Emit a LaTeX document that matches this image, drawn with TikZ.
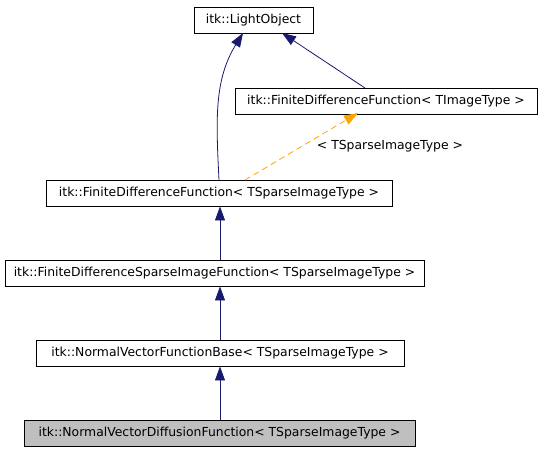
\documentclass[tikz,border=0pt]{standalone}
\usepackage{fontspec}
\setmainfont{DejaVu Sans}
\usetikzlibrary{arrows.meta}
\definecolor{navyline}{HTML}{191970}
\definecolor{dorange}{HTML}{FFA500}
\definecolor{graybox}{HTML}{BFBFBF}
\begin{document}
\begin{tikzpicture}[x=1pt,y=-1pt,
  cls/.style={draw=black,line width=0.9pt,fill=white,inner sep=0pt,anchor=center,font=\fontsize{12.4}{14}\selectfont},
  inh/.style={draw=navyline,line width=0.8pt,-{Triangle[length=14pt,width=10pt,fill=navyline]}},
  tmpl/.style={draw=dorange,line width=0.8pt,dashed,dash pattern=on 6pt off 4pt,-{Triangle[length=14pt,width=10pt,fill=dorange]}},
  lbl/.style={font=\fontsize{12.4}{14}\selectfont,inner sep=0pt}]
\useasboundingbox (0,0) rectangle (543,453);
\node[cls,minimum width=119pt,minimum height=26pt] (lo) at (253.5,20) {itk::LightObject};
\node[cls,minimum width=302pt,minimum height=26pt] (fdi) at (386,101) {itk::FiniteDifferenceFunction< TImageType >};
\node[cls,minimum width=346pt,minimum height=26pt] (fds) at (219,193) {itk::FiniteDifferenceFunction< TSparseImageType >};
\node[cls,minimum width=419pt,minimum height=26pt] (fdsp) at (214.5,273) {itk::FiniteDifferenceSparseImageFunction< TSparseImageType >};
\node[cls,minimum width=368pt,minimum height=26pt] (nvb) at (220,353) {itk::NormalVectorFunctionBase< TSparseImageType >};
\node[cls,fill=graybox,minimum width=391pt,minimum height=26pt] (nvd) at (219.5,433) {itk::NormalVectorDiffusionFunction< TSparseImageType >};
\coordinate (c1) at (219,180);
\coordinate (c2) at (243,33);
\draw[inh] (c1) .. controls (216,120) and (214,80) .. (c2);
\coordinate (c3) at (365,88);
\coordinate (c4) at (282,33);
\draw[inh] (c3) -- (c4);
\coordinate (c5) at (245,180);
\coordinate (c6) at (358,113);
\draw[tmpl] (c5) -- (c6);
\node[lbl] (tl) at (390,146) {< TSparseImageType >};
\draw[inh] (fdsp.north -| 220,0) -- (fds.south -| 220,0);
\draw[inh] (nvb.north -| 220,0) -- (fdsp.south -| 220,0);
\draw[inh] (nvd.north -| 220,0) -- (nvb.south -| 220,0);
\end{tikzpicture}
\end{document}
